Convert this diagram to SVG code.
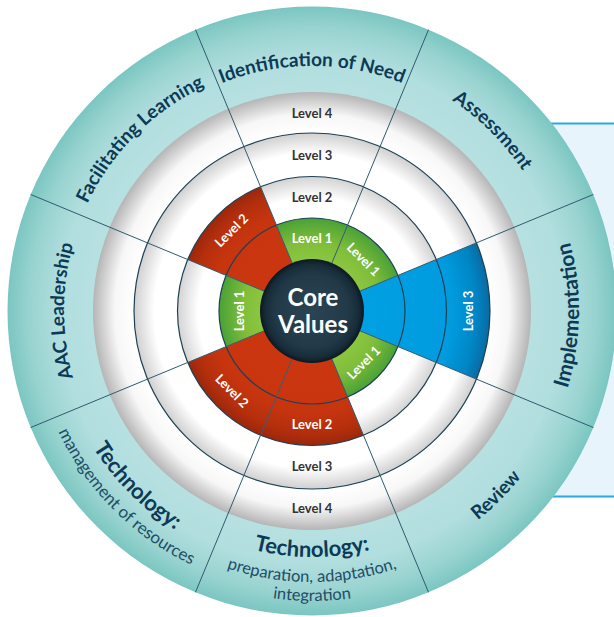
<svg xmlns="http://www.w3.org/2000/svg" xmlns:xlink="http://www.w3.org/1999/xlink" width="614" height="617" viewBox="0 0 614 617">
  <defs>
    <style>
      .lvl { font-family: Lato, "Noto Sans", sans-serif; font-weight: 700; font-size: 13px; text-anchor: middle; }
      .lvl-dark { fill: #333333; }
      .lvl-light { fill: #ffffff; }
      .head { font-family: Lato, "Noto Sans", sans-serif; font-weight: 700; font-size: 19px; fill: #0c3a56; }
      .head-lg { font-size: 21px; }
      .head-xl { font-size: 22px; }
      .sub { font-family: Lato, "Noto Sans", sans-serif; font-weight: 400; font-size: 16.5px; fill: #1f4d66; }
      .sub-lg { font-size: 17px; }
      .core { font-family: Lato, "Noto Sans", sans-serif; font-weight: 700; font-size: 24px; fill: #ffffff; text-anchor: middle; }
      .divider { stroke: #2f5a6e; stroke-width: 1; fill: none; }
      .ring { stroke: #1d4056; stroke-width: 1.2; fill: none; }
    </style>
    <radialGradient id="tealGrad" gradientUnits="userSpaceOnUse" cx="312" cy="311" r="304.5">
      <stop offset="0.719" stop-color="#b7e0e1"/>
      <stop offset="0.83" stop-color="#b1dede"/>
      <stop offset="0.93" stop-color="#98d3d0"/>
      <stop offset="1" stop-color="#7bc6c1"/>
    </radialGradient>
    <radialGradient id="whiteGrad" gradientUnits="userSpaceOnUse" cx="312" cy="311" r="219">
      <stop offset="0.425" stop-color="#ffffff"/>
      <stop offset="0.52" stop-color="#ffffff"/>
      <stop offset="0.614" stop-color="#d3d3d3"/>
      <stop offset="0.6142" stop-color="#ffffff"/>
      <stop offset="0.72" stop-color="#ffffff"/>
      <stop offset="0.8127" stop-color="#d0d0d0"/>
      <stop offset="0.8129" stop-color="#ffffff"/>
      <stop offset="0.90" stop-color="#f7f7f7"/>
      <stop offset="1" stop-color="#b5b5b5"/>
    </radialGradient>
    <radialGradient id="greenGrad" gradientUnits="userSpaceOnUse" cx="312" cy="311" r="93">
      <stop offset="0.56" stop-color="#8cc63f"/>
      <stop offset="0.75" stop-color="#7fbd3a"/>
      <stop offset="1" stop-color="#49a137"/>
    </radialGradient>
    <radialGradient id="redGrad" gradientUnits="userSpaceOnUse" cx="312" cy="311" r="134.5">
      <stop offset="0.4" stop-color="#cb3610"/>
      <stop offset="0.75" stop-color="#c7350f"/>
      <stop offset="0.9" stop-color="#b52f0d"/>
      <stop offset="1" stop-color="#9b270b"/>
    </radialGradient>
    <radialGradient id="blueGrad" gradientUnits="userSpaceOnUse" cx="312" cy="311" r="178">
      <stop offset="0.3" stop-color="#00a0e3"/>
      <stop offset="0.78" stop-color="#009cdf"/>
      <stop offset="0.92" stop-color="#0086c5"/>
      <stop offset="1" stop-color="#0a6aa2"/>
    </radialGradient>
    <radialGradient id="coreGrad" gradientUnits="userSpaceOnUse" cx="312" cy="311" r="52">
      <stop offset="0" stop-color="#2b4453"/>
      <stop offset="0.7" stop-color="#223a48"/>
      <stop offset="0.9" stop-color="#172c39"/>
      <stop offset="1" stop-color="#0b1820"/>
    </radialGradient>

    <!-- arcs for the outer ring labels (tops outward: clockwise; tops inward: anticlockwise) -->
    <path id="arcN" d="M99.82,188.5 A245,245 0 0 1 524.18,188.5"/>
    <path id="arcNE" d="M246.52,66.62 A253,253 0 0 1 556.38,376.48"/>
    <path id="arcNW" d="M71.48,375.45 A249,249 0 0 1 376.45,70.48"/>
    <path id="arcW" d="M188,525.77 A248,248 0 0 1 188,96.23"/>
    <path id="arcE" d="M445.5,542.23 A267,267 0 0 0 445.5,79.77"/>
    <path id="arcSE" d="M242.9,568.9 A267,267 0 0 0 569.9,241.9"/>
    <path id="arcS1" d="M98.96,434 A246,246 0 0 0 525.04,434"/>
    <path id="arcS2" d="M77.31,446.5 A271,271 0 0 0 546.69,446.5"/>
    <path id="arcS3" d="M60.85,456 A290,290 0 0 0 563.15,456"/>
    <path id="arcSW1" d="M62.79,244.22 A258,258 0 0 0 378.78,560.21"/>
    <path id="arcSW2" d="M40.57,238.27 A281,281 0 0 0 384.73,582.43"/>
  </defs>

  <!-- side panel behind the wheel -->
  <g id="panel">
    <rect x="380" y="123" width="260" height="374" fill="#e7f4fc"/>
    <line x1="380" y1="123.5" x2="614" y2="123.5" stroke="#2aa9e0" stroke-width="2"/>
    <line x1="380" y1="496.5" x2="614" y2="496.5" stroke="#2aa9e0" stroke-width="2"/>
  </g>

  <!-- outer teal ring and white level rings -->
  <g id="wheel-base">
    <circle cx="312" cy="311" r="304.5" fill="url(#tealGrad)"/>
    <circle cx="312" cy="311" r="219" fill="url(#whiteGrad)"/>
  </g>

  <!-- coloured level segments -->
  <g id="segments">
    <path id="seg-n-green" d="M312,311 L276.41,225.08 A93,93 0 0 1 347.59,225.08 Z" fill="url(#greenGrad)"/>
    <path id="seg-ne-green" d="M312,311 L347.59,225.08 A93,93 0 0 1 397.92,275.41 Z" fill="url(#greenGrad)"/>
    <path id="seg-e-blue" d="M312,311 L476.45,242.88 A178,178 0 0 1 476.45,379.12 Z" fill="url(#blueGrad)"/>
    <path id="seg-se-green" d="M312,311 L397.92,346.59 A93,93 0 0 1 347.59,396.92 Z" fill="url(#greenGrad)"/>
    <path id="seg-s-red" d="M312,311 L363.47,435.26 A134.5,134.5 0 0 1 260.53,435.26 Z" fill="url(#redGrad)"/>
    <path id="seg-sw-red" d="M312,311 L260.53,435.26 A134.5,134.5 0 0 1 187.74,362.47 Z" fill="url(#redGrad)"/>
    <path id="seg-w-green" d="M312,311 L226.08,346.59 A93,93 0 0 1 226.08,275.41 Z" fill="url(#greenGrad)"/>
    <path id="seg-nw-red" d="M312,311 L187.74,259.53 A134.5,134.5 0 0 1 260.53,186.74 Z" fill="url(#redGrad)"/>
  </g>

  <!-- ring outlines and sector dividers -->
  <g id="connectors">
    <circle class="ring" cx="312" cy="311" r="93"/>
    <circle class="ring" cx="312" cy="311" r="134.5"/>
    <circle class="ring" cx="312" cy="311" r="178"/>
    <line class="divider" x1="292.10" y1="262.96" x2="195.47" y2="29.68"/>
    <line class="divider" x1="331.90" y1="262.96" x2="428.53" y2="29.68"/>
    <line class="divider" x1="360.04" y1="291.10" x2="593.32" y2="194.47"/>
    <line class="divider" x1="360.04" y1="330.90" x2="593.32" y2="427.53"/>
    <line class="divider" x1="331.90" y1="359.04" x2="428.53" y2="592.32"/>
    <line class="divider" x1="292.10" y1="359.04" x2="195.47" y2="592.32"/>
    <line class="divider" x1="263.96" y1="330.90" x2="30.68" y2="427.53"/>
    <line class="divider" x1="263.96" y1="291.10" x2="30.68" y2="194.47"/>
  </g>

  <!-- centre -->
  <g id="core-values">
    <circle cx="312" cy="311" r="52" fill="url(#coreGrad)"/>
    <text class="core" x="313" y="306">Core</text>
    <text class="core" x="313" y="333">Values</text>
  </g>

  <!-- level labels -->
  <g id="level-labels">
    <text class="lvl lvl-dark" x="312" y="117.7">Level 4</text>
    <text class="lvl lvl-dark" x="312" y="159.7">Level 3</text>
    <text class="lvl lvl-dark" x="312" y="201.7">Level 2</text>
    <text class="lvl lvl-light" x="312" y="242.7">Level 1</text>
    <text class="lvl lvl-light" x="312" y="242.7" transform="rotate(45 312 311)">Level 1</text>
    <text class="lvl lvl-light" x="312" y="471.7" transform="rotate(-90 312 311)">Level 3</text>
    <text class="lvl lvl-light" x="312" y="388.7" transform="rotate(-45 312 311)">Level 1</text>
    <text class="lvl lvl-light" x="312" y="428.7">Level 2</text>
    <text class="lvl lvl-dark" x="312" y="470.7">Level 3</text>
    <text class="lvl lvl-dark" x="312" y="512.7">Level 4</text>
    <text class="lvl lvl-light" x="312" y="428.7" transform="rotate(45 312 311)">Level 2</text>
    <text class="lvl lvl-light" x="312" y="242.7" transform="rotate(-90 312 311)">Level 1</text>
    <text class="lvl lvl-light" x="312" y="201.7" transform="rotate(-45 312 311)">Level 2</text>
  </g>

  <!-- outer ring headings -->
  <g id="node-identification">
    <text class="head"><textPath href="#arcN" startOffset="50%" text-anchor="middle">Identification of Need</textPath></text>
  </g>
  <g id="node-assessment">
    <text class="head"><textPath href="#arcNE" startOffset="50%" text-anchor="middle">Assessment</textPath></text>
  </g>
  <g id="node-implementation">
    <text class="head head-lg"><textPath href="#arcE" startOffset="49.2%" text-anchor="middle">Implementation</textPath></text>
  </g>
  <g id="node-review">
    <text class="head"><textPath href="#arcSE" startOffset="50%" text-anchor="middle">Review</textPath></text>
  </g>
  <g id="node-technology-preparation">
    <text class="head head-xl"><textPath href="#arcS1" startOffset="50%" text-anchor="middle">Technology:</textPath></text>
    <text class="sub"><textPath href="#arcS2" startOffset="50%" text-anchor="middle">preparation, adaptation,</textPath></text>
    <text class="sub"><textPath href="#arcS3" startOffset="50%" text-anchor="middle">integration</textPath></text>
  </g>
  <g id="node-technology-management">
    <text class="head head-xl"><textPath href="#arcSW1" startOffset="50%" text-anchor="middle">Technology:</textPath></text>
    <text class="sub sub-lg"><textPath href="#arcSW2" startOffset="50%" text-anchor="middle">management of resources</textPath></text>
  </g>
  <g id="node-aac-leadership">
    <text class="head"><textPath href="#arcW" startOffset="50%" text-anchor="middle">AAC Leadership</textPath></text>
  </g>
  <g id="node-facilitating">
    <text class="head"><textPath href="#arcNW" startOffset="50%" text-anchor="middle">Facilitating Learning</textPath></text>
  </g>
</svg>
